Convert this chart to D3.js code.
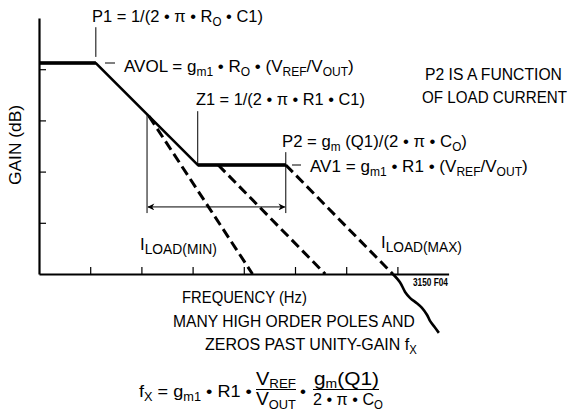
<!DOCTYPE html>
<html>
<head>
<meta charset="utf-8">
<script src="https://cdn.jsdelivr.net/npm/d3@7"></script>
<style>
  html, body { margin: 0; padding: 0; background: #fff; }
  svg { display: block; }
  text { font-family: "Liberation Sans", Arial, sans-serif; fill: #000; }
</style>
</head>
<body>
<svg id="chart" width="568" height="413"></svg>
<script>
// ---------- data (axis units: decades of frequency / gain steps) ----------
const xTicks = [1, 2, 3, 4, 5, 6, 7];
const yTicks = [1, 2, 3, 4];
// open-loop gain asymptote: AVOL flat, P1, slope to Z1, AV1 flat to P2
const gainX = [0, 1.11, 3.10, 4.82];
const gainY = [4.12, 4.12, 2.13, 2.13];
// dashed roll-offs for different loads
const dashMinX = [2.15, 4.17];
const dashMinY = [3.08, 0];
const dashMidX = [3.50, 5.59];
const dashMidY = [2.13, 0];
const dashMaxX = [4.82, 6.91];
const dashMaxY = [2.13, 0];
// high-order poles beyond unity gain (wavy)
const wavyX = [6.91, 7.05, 7.15, 7.25, 7.38, 7.48, 7.58, 7.64, 7.73, 7.81];
const wavyY = [0, -0.16, -0.35, -0.47, -0.57, -0.66, -0.80, -0.92, -1.04, -1.15];
// marker lines
const p1Mark = [1.11, 4.82, 4.24];   // x, yTop, yBottom
const z1Mark = [3.10, 3.18, 2.13];
const bracketLeft = [2.11, 3.10, 1.19];
const bracketRight = [4.82, 2.38, 1.19];
const arrowSpan = [2.11, 4.82, 1.31]; // x1, x2, y

const svg = d3.select("#chart");
const x = d3.scaleLinear().domain([0, 8]).range([39, 448.6]);
const y = d3.scaleLinear().domain([0, 5]).range([274, 18]);
const line = d3.line().x(d => x(d[0])).y(d => y(d[1]));
const zip = (a, b) => a.map((v, i) => [v, b[i]]);

// ---------- axes ----------
const yAxis = svg.append("g").attr("transform", `translate(${x(0)},0)`)
  .call(d3.axisLeft(y).tickValues(yTicks).tickSize(-7).tickSizeOuter(0).tickFormat(""));
const xAxis = svg.append("g").attr("transform", `translate(0,${y(0)})`)
  .call(d3.axisBottom(x).tickValues(xTicks).tickSize(-7).tickSizeOuter(0).tickFormat(""));
[yAxis, xAxis].forEach(g => {
  g.select(".domain").attr("stroke", "#000").attr("stroke-width", 2.2);
  g.selectAll(".tick line").attr("stroke", "#000").attr("stroke-width", 1.2);
});

// ---------- marker lines ----------
function vline(m) {
  svg.append("line").attr("x1", x(m[0])).attr("x2", x(m[0]))
    .attr("y1", y(m[1])).attr("y2", y(m[2]))
    .attr("stroke", "#000").attr("stroke-width", 1);
}
[p1Mark, z1Mark, bracketLeft, bracketRight].forEach(vline);

// double arrow
const defs = svg.append("defs");
defs.append("marker").attr("id", "arr").attr("viewBox", "0 0 10 10")
  .attr("refX", 9).attr("refY", 5).attr("markerWidth", 12).attr("markerHeight", 7)
  .attr("markerUnits", "userSpaceOnUse")
  .attr("orient", "auto-start-reverse")
  .append("path").attr("d", "M0,0 L10,5 L0,10 L3,5 Z").attr("fill", "#000");
svg.append("line")
  .attr("x1", x(arrowSpan[0]) + 1).attr("x2", x(arrowSpan[1]) - 1)
  .attr("y1", y(arrowSpan[2])).attr("y2", y(arrowSpan[2]))
  .attr("stroke", "#000").attr("stroke-width", 1)
  .attr("marker-start", "url(#arr)").attr("marker-end", "url(#arr)");

// ---------- gain curve ----------
const gpts = zip(gainX, gainY);
svg.append("path").attr("d", line(gpts)).attr("fill", "none")
  .attr("stroke", "#000").attr("stroke-width", 2.6).attr("stroke-linejoin", "round");
[[gpts[0], gpts[1]], [gpts[2], gpts[3]]].forEach(s => {
  svg.append("path").attr("d", line(s)).attr("fill", "none")
    .attr("stroke", "#000").attr("stroke-width", 3.4);
});

// dashed roll-offs
[[dashMinX, dashMinY], [dashMidX, dashMidY], [dashMaxX, dashMaxY]].forEach(([dx, dy]) => {
  svg.append("path").attr("d", line(zip(dx, dy))).attr("fill", "none")
    .attr("stroke", "#000").attr("stroke-width", 3).attr("stroke-dasharray", "10,5");
});

// wavy continuation
svg.append("path").attr("d", d3.line().x(d => x(d[0])).y(d => y(d[1])).curve(d3.curveCatmullRom)(zip(wavyX, wavyY)))
  .attr("fill", "none").attr("stroke", "#000").attr("stroke-width", 2.6);

// ---------- text helper: horizontally scaled to the measured width ----------
const FS = 17, SUB = 12;
function rich(xp, yp, parts, w, opts = {}) {
  const base = opts.transform || `translate(${xp},${yp})`;
  const g = svg.append("g").attr("transform", base);
  const t = g.append("text").attr("x", 0).attr("y", 0)
    .attr("font-size", opts.size || FS)
    .attr("text-anchor", opts.anchor || "start");
  if (opts.bold) t.attr("font-weight", "bold");
  let pend = 0;
  const sd = opts.sd || 4;
  parts.forEach(p => {
    if (typeof p === "string") {
      const ts = t.append("tspan").text(p);
      if (pend) { ts.attr("dy", pend); pend = 0; }
    } else {
      t.append("tspan").attr("font-size", opts.sub || SUB).attr("dy", sd + pend).text(p.s);
      pend = -sd;
    }
  });
  if (w) {
    const w0 = t.node().getComputedTextLength();
    if (w0 > 0) g.attr("transform", `${base} scale(${(w / w0).toFixed(4)},1)`);
  }
  return t;
}
const s = v => ({ s: v });

rich(92, 22, ["P1 = 1/(2 \u2022 \u03c0 \u2022 R", s("O"), " \u2022 C1)"], 171);
svg.append("line").attr("x1", 105).attr("x2", 115).attr("y1", 63).attr("y2", 63).attr("stroke", "#000").attr("stroke-width", 1);
rich(124, 72, ["AVOL = g", s("m1"), " \u2022 R", s("O"), " \u2022 (V", s("REF"), "/V", s("OUT"), ")"], 230);
rich(196, 105, ["Z1 = 1/(2 \u2022 \u03c0 \u2022 R1 \u2022 C1)"], 169);
rich(425, 80, ["P2 IS A FUNCTION"], 137);
rich(422, 103, ["OF LOAD CURRENT"], 145);
rich(282, 147, ["P2 = g", s("m"), " (Q1)/(2 \u2022 \u03c0 \u2022 C", s("O"), ")"], 185);
svg.append("line").attr("x1", 292).attr("x2", 301).attr("y1", 165).attr("y2", 165).attr("stroke", "#000").attr("stroke-width", 1);
rich(310, 172, ["AV1 = g", s("m1"), " \u2022 R1 \u2022 (V", s("REF"), "/V", s("OUT"), ")"], 218);
rich(140, 250, ["I", s("LOAD(MIN)")], 77, { sub: 14 });
rich(381, 248, ["I", s("LOAD(MAX)")], 81, { sub: 14 });
rich(413, 286, ["3150 F04"], 35, { size: 10, bold: true });

rich(0, 0, ["GAIN (dB)"], 80, { anchor: "middle", transform: "translate(21,145) rotate(-90)" });
rich(182, 303, ["FREQUENCY (Hz)"], 125);
rich(173, 327, ["MANY HIGH ORDER POLES AND"], 242);
rich(205, 350, ["ZEROS PAST UNITY-GAIN f", s("X")], 212);

// formula
rich(139, 397, ["f", s("X"), " = g", s("m1"), " \u2022 R1 \u2022"], 113);
rich(256, 385, ["V", s("REF")], 40, { sd: 3, size: 18 });
svg.append("line").attr("x1", 256).attr("x2", 296).attr("y1", 389.5).attr("y2", 389.5).attr("stroke", "#000").attr("stroke-width", 1.2);
rich(256, 405, ["V", s("OUT")], 40, { size: 18 });
rich(303, 397, ["\u2022"], null, { anchor: "middle" });
rich(314, 385, ["g", s("m"), "(Q1)"], 65, { sd: 3, size: 18 });
svg.append("line").attr("x1", 313).attr("x2", 379).attr("y1", 389.5).attr("y2", 389.5).attr("stroke", "#000").attr("stroke-width", 1.2);
rich(313, 405, ["2 \u2022 \u03c0 \u2022 C", s("O")], 70, { size: 17 });
</script>
</body>
</html>
